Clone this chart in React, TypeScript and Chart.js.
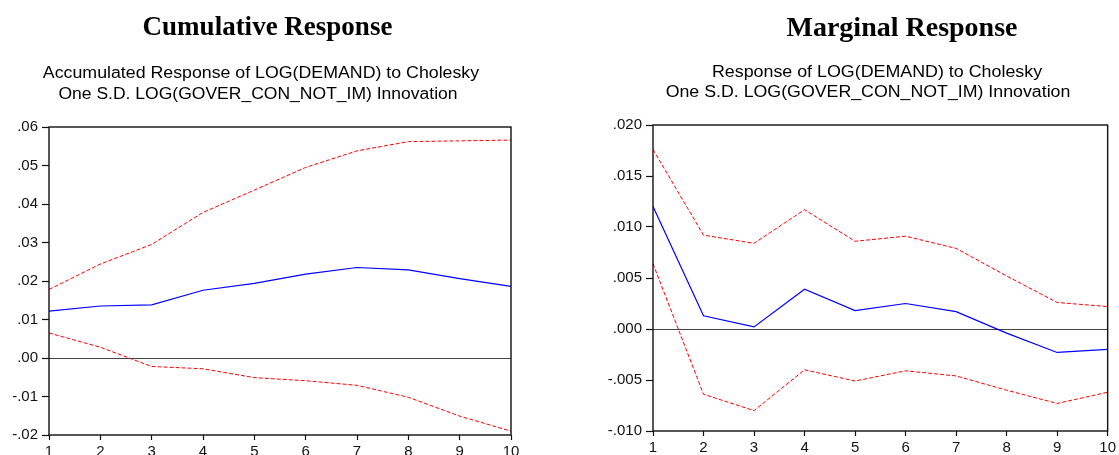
import React, { useEffect, useRef } from "react";
import { Chart, registerables } from "chart.js";

Chart.register(...registerables);

// ---------------- data ----------------
const horizons = ["1", "2", "3", "4", "5", "6", "7", "8", "9", "10"];

const accumResponse = [0.0122, 0.0135, 0.0138, 0.0176, 0.0194, 0.0218, 0.0235, 0.0229, 0.0206, 0.0186];
const accumUpper = [0.0178, 0.0244, 0.0295, 0.0378, 0.0436, 0.0495, 0.0538, 0.0562, 0.0564, 0.0566];
const accumLower = [0.0065, 0.0028, -0.0022, -0.0028, -0.0051, -0.0059, -0.0071, -0.0102, -0.0151, -0.019];

const marginalResponse = [0.012, 0.0013, 0.0002, 0.0039, 0.0018, 0.0025, 0.0017, -0.0004, -0.0023, -0.002];
const marginalUpper = [0.0176, 0.0092, 0.0084, 0.0117, 0.0086, 0.0091, 0.0079, 0.0052, 0.0026, 0.0022];
const marginalLower = [0.0064, -0.0064, -0.008, -0.004, -0.0051, -0.0041, -0.0046, -0.006, -0.0073, -0.0062];

const accumYTicks = [-0.02, -0.01, 0, 0.01, 0.02, 0.03, 0.04, 0.05, 0.06];
const accumYTickLabels = ["-.02", "-.01", ".00", ".01", ".02", ".03", ".04", ".05", ".06"];
const marginalYTicks = [-0.01, -0.005, 0, 0.005, 0.01, 0.015, 0.02];
const marginalYTickLabels = ["-.010", "-.005", ".000", ".005", ".010", ".015", ".020"];

const leftTitle = "Cumulative Response";
const leftSubtitle = ["Accumulated Response of LOG(DEMAND) to Cholesky", "One S.D. LOG(GOVER_CON_NOT_IM) Innovation"];
const rightTitle = "Marginal Response";
const rightSubtitle = ["Response of LOG(DEMAND) to Cholesky", "One S.D. LOG(GOVER_CON_NOT_IM) Innovation"];

// ---------------- helpers ----------------
const SANS = "'Liberation Sans', Arial, sans-serif";
const SERIF = "'Liberation Serif', 'Times New Roman', serif";

const framePlugin = {
  id: "frame",
  afterDatasetsDraw(chart: any) {
    const { ctx, chartArea } = chart;
    const { left, top, right, bottom } = chartArea;
    ctx.save();
    ctx.strokeStyle = "#111111";
    ctx.lineWidth = 1.4;
    ctx.strokeRect(left, top, right - left, bottom - top);
    ctx.restore();
  },
};

type PanelProps = {
  width: number;
  height: number;
  left: number;
  response: number[];
  upper: number[];
  lower: number[];
  yTicks: number[];
  yTickLabels: string[];
  yAxisWidth: number;
  xAxisHeight: number;
  padTop: number;
  padRight: number;
  yTickLength: number;
  yTickPadding: number;
};

function Panel(p: PanelProps) {
  const ref = useRef<HTMLCanvasElement | null>(null);
  useEffect(() => {
    if (!ref.current) return;
    const findLabel = (v: number) => {
      const i = p.yTicks.findIndex((t) => Math.abs(t - v) < 1e-9);
      return i >= 0 ? p.yTickLabels[i] : "";
    };
    const chart = new Chart(ref.current, {
      type: "line",
      data: {
        labels: horizons,
        datasets: [
          {
            data: p.upper,
            borderColor: "#ff0000",
            borderWidth: 1,
            borderDash: [4, 2],
            pointRadius: 0,
            tension: 0,
            fill: false,
          },
          {
            data: p.lower,
            borderColor: "#ff0000",
            borderWidth: 1,
            borderDash: [4, 2],
            pointRadius: 0,
            tension: 0,
            fill: false,
          },
          {
            data: p.response,
            borderColor: "#0000ff",
            borderWidth: 1.2,
            pointRadius: 0,
            tension: 0,
            fill: false,
          },
        ],
      },
      options: {
        animation: false,
        responsive: false,
        devicePixelRatio: 1,
        layout: { padding: { top: p.padTop, right: p.padRight, left: 0, bottom: 0 } },
        plugins: {
          legend: { display: false },
          title: { display: false },
          tooltip: { enabled: false },
        },
        scales: {
          x: {
            type: "category",
            offset: false,
            border: { display: false },
            grid: {
              display: true,
              drawOnChartArea: false,
              drawTicks: true,
              tickLength: 5,
              tickColor: "#111111",
              tickWidth: 1.2,
            },
            ticks: {
              color: "#111111",
              font: { family: SANS, size: 15 },
              padding: 3,
              maxRotation: 0,
              autoSkip: false,
            },
            afterFit: (scale: any) => {
              scale.height = p.xAxisHeight;
            },
          },
          y: {
            type: "linear",
            min: p.yTicks[0],
            max: p.yTicks[p.yTicks.length - 1],
            border: { display: false },
            grid: {
              display: true,
              drawOnChartArea: true,
              drawTicks: true,
              tickLength: p.yTickLength,
              tickColor: "#111111",
              tickWidth: 1.2,
              lineWidth: 1,
              color: (ctx: any) =>
                ctx.tick && Math.abs(ctx.tick.value) < 1e-9 ? "#444444" : "rgba(0,0,0,0)",
            },
            ticks: {
              color: "#111111",
              font: { family: SANS, size: 15 },
              padding: p.yTickPadding,
              callback: (value: any) => findLabel(Number(value)),
            },
            afterBuildTicks: (scale: any) => {
              scale.ticks = p.yTicks.map((v) => ({ value: v }));
            },
            afterFit: (scale: any) => {
              scale.width = p.yAxisWidth;
            },
          },
        },
      },
      plugins: [framePlugin],
    } as any);
    return () => chart.destroy();
  }, []);
  return (
    <canvas
      ref={ref}
      width={p.width}
      height={p.height}
      style={{ position: "absolute", left: p.left, top: 0, width: p.width, height: p.height }}
    />
  );
}

function TextLine(props: {
  text: string;
  cx: number;
  top: number;
  font: string;
  size: number;
  bold?: boolean;
  lineHeight: number;
  scaleX?: number;
}) {
  const w = 700;
  return (
    <div
      style={{
        position: "absolute",
        left: props.cx - w / 2,
        top: props.top,
        width: w,
        textAlign: "center",
        fontFamily: props.font,
        fontSize: props.size,
        fontWeight: props.bold ? "bold" : "normal",
        lineHeight: props.lineHeight + "px",
        color: "#000",
        whiteSpace: "pre",
        transform: props.scaleX ? `scaleX(${props.scaleX})` : undefined,
        transformOrigin: "center",
      }}
    >
      {props.text}
    </div>
  );
}

export default function App() {
  return (
    <div
      style={{
        position: "absolute",
        left: 0,
        top: 0,
        width: 1119,
        height: 455,
        overflow: "hidden",
        background: "#ffffff",
      }}
    >
      <Panel
        width={560}
        height={455}
        left={0}
        response={accumResponse}
        upper={accumUpper}
        lower={accumLower}
        yTicks={accumYTicks}
        yTickLabels={accumYTickLabels}
        yAxisWidth={49}
        xAxisHeight={20}
        padTop={127}
        padRight={49}
        yTickLength={7}
        yTickPadding={4}
      />
      <Panel
        width={559}
        height={455}
        left={560}
        response={marginalResponse}
        upper={marginalUpper}
        lower={marginalLower}
        yTicks={marginalYTicks}
        yTickLabels={marginalYTickLabels}
        yAxisWidth={93}
        xAxisHeight={24}
        padTop={125}
        padRight={10}
        yTickLength={7}
        yTickPadding={4}
      />
      <TextLine text={leftTitle} cx={267.5} top={13.4} font={SERIF} size={27} bold lineHeight={27} />
      <TextLine text={rightTitle} cx={902} top={13} font={SERIF} size={28} bold lineHeight={28} />
      <TextLine text={leftSubtitle[0]} cx={261} top={62.3} font={SANS} size={16} lineHeight={21} scaleX={1.11} />
      <TextLine text={leftSubtitle[1]} cx={257.5} top={83.3} font={SANS} size={16} lineHeight={21} scaleX={1.095} />
      <TextLine text={rightSubtitle[0]} cx={876.7} top={61} font={SANS} size={16} lineHeight={21} scaleX={1.115} />
      <TextLine text={rightSubtitle[1]} cx={867.5} top={81} font={SANS} size={16} lineHeight={21} scaleX={1.11} />
    </div>
  );
}
